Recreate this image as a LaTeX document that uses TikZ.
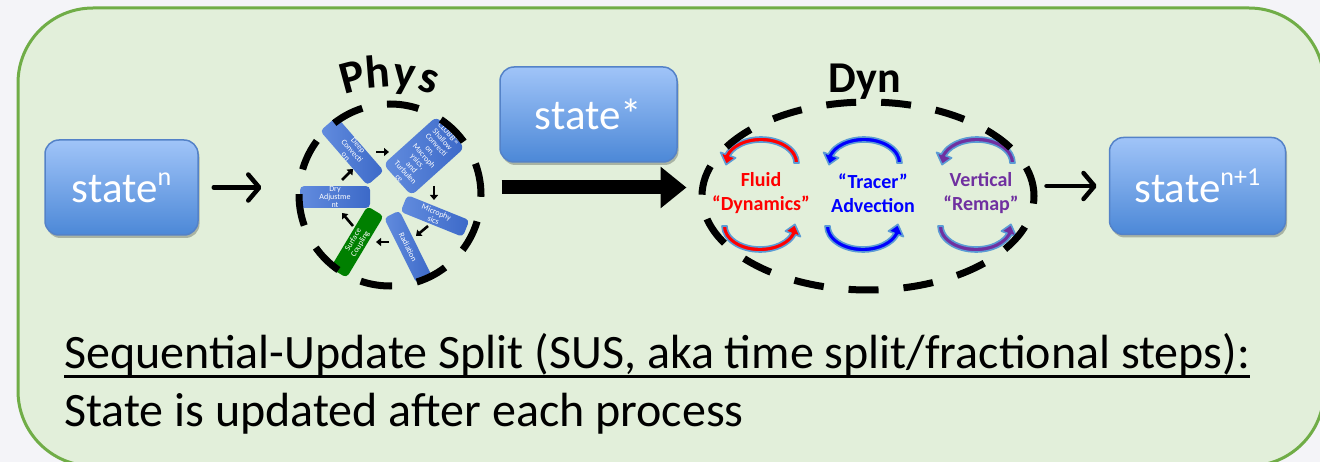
\documentclass[tikz,border=0pt]{standalone}
\usepackage{fontspec}
\setmainfont{Carlito}
\usetikzlibrary{arrows.meta,calc,shadows,shapes.geometric}

\definecolor{pagebg}{RGB}{244,244,248}
\definecolor{panelfill}{RGB}{226,239,218}
\definecolor{panelline}{RGB}{112,173,71}
\definecolor{boxtop}{RGB}{160,196,248}
\definecolor{boxbot}{RGB}{76,136,215}
\definecolor{boxline}{RGB}{84,130,200}
\definecolor{procblue}{RGB}{60,105,200}
\definecolor{procblueL}{RGB}{98,140,222}
\definecolor{procgreen}{RGB}{0,128,0}
\definecolor{arcline}{RGB}{91,155,213}
\definecolor{dynred}{RGB}{255,0,0}
\definecolor{dynblue}{RGB}{0,0,255}
\definecolor{dynpurple}{RGB}{112,48,160}

% superscript for the state labels
\newcommand\stsup[1]{\raisebox{17pt}{\fontsize{26}{26}\selectfont #1}}

% curved band arrow: #1 centre, #2 tail angle, #3 head-base angle, #4 tip angle, #5 colour
\newcommand\cArrow[5]{%
  \filldraw[fill=#5, draw=arcline, line width=1.6pt, line join=round]
    ($(#1)+(#2:38 and 26)$) arc[start angle=#2, end angle=#3, x radius=38, y radius=26]
    -- ($(#1)+(#3:43 and 31)$) -- ($(#1)+(#4:35 and 23)$) -- ($(#1)+(#3:27 and 15)$)
    -- ($(#1)+(#3:33 and 21)$) arc[start angle=#3, end angle=#2, x radius=33, y radius=21]
    -- cycle;}

\begin{document}
\begin{tikzpicture}[x=1pt, y=-1pt,
  statebox/.style={rounded corners=14pt, top color=boxtop, bottom color=boxbot,
    draw=boxline, line width=1.5pt, text=white, inner sep=0pt,
    font=\fontsize{43}{45}\selectfont,
    drop shadow={shadow xshift=1.5pt, shadow yshift=-3pt, opacity=0.25, fill=black}},
  procbox/.style={rounded corners=4pt, left color=procblueL, right color=procblue,
    text=white, inner sep=0pt, align=center,
    font=\fontsize{8}{8.3}\selectfont},
  greenbox/.style={procbox, left color=procgreen, right color=procgreen},
  ring/.style={draw=black, line width=7pt, dash pattern=on 32pt off 25pt, inner sep=0pt},
  sarrow/.style={line width=2.6pt, -{Triangle[length=5pt, width=8pt]}},
  thinarrow/.style={line width=4.5pt, line cap=round,
    -{Straight Barb[length=11pt, width=26pt, line cap=round, round]}},
  bigarrow/.style={line width=14pt, -{Triangle[length=26pt, width=40pt]}},
  dyntext/.style={font=\fontsize{20}{24}\selectfont\bfseries, align=center, inner sep=0pt},
  physletter/.style={font=\fontsize{46}{46}\selectfont\bfseries, anchor=base, inner sep=0pt},
  bodytext/.style={font=\fontsize{48}{55}\selectfont, anchor=base west, inner sep=0pt}
]
\fill[pagebg] (0,0) rectangle (1320,462);
\useasboundingbox (0,0) rectangle (1320,462);

% panel
\draw[panelline, fill=panelfill, line width=3pt, rounded corners=75pt] (18,8) rectangle (1324,466);

% state boxes
\node[statebox, minimum width=153pt, minimum height=95pt] (sn) at (121.5,187.5) {state\stsup{n}};
\node[statebox, minimum width=177pt, minimum height=95pt] (ss) at (588.5,114.5) {state*};
\node[statebox, minimum width=176pt, minimum height=97pt] (sn1) at (1197.5,186) {state\stsup{n+1}};

% physics processes
\node[procbox, rotate=-49, minimum width=72pt, minimum height=20pt] (deep) at (352,151)
  {Deep\\Convecti\\on};
\node[procbox, rotate=-48, minimum width=42pt, minimum height=69pt, rounded corners=6pt] (clubb) at (424,156)
  {CLUBB =\\Shallow\\Convecti\\on,\\Macroph\\ysics,\\and\\Turbulen\\ce};
\node[procbox, rotate=-22, minimum width=67pt, minimum height=18pt] (micro) at (435,216)
  {Microphy\\sics};
\node[procbox, rotate=-63.5, minimum width=73pt, minimum height=17pt] (rad) at (408,247)
  {Radiation};
\node[greenbox, rotate=59, minimum width=72pt, minimum height=19pt] (surf) at (357,242)
  {Surface\\Coupling};
\node[procbox, minimum width=70pt, minimum height=18pt] (dry) at (335,197)
  {Dry\\Adjustme\\nt};

% order of the physics calls
\coordinate (a1s) at (376,152); \coordinate (a1e) at (389,152);
\coordinate (a2s) at (434,186); \coordinate (a2e) at (434,200);
\coordinate (a3s) at (428,226); \coordinate (a3e) at (416,236);
\coordinate (a4s) at (389,242); \coordinate (a4e) at (376,242);
\coordinate (a5s) at (353,226); \coordinate (a5e) at (342,213);
\coordinate (a6s) at (342,180); \coordinate (a6e) at (353,169);
\draw[sarrow] (a1s) -- (a1e);
\draw[sarrow] (a2s) -- (a2e);
\draw[sarrow] (a3s) -- (a3e);
\draw[sarrow] (a4s) -- (a4e);
\draw[sarrow] (a5s) -- (a5e);
\draw[sarrow] (a6s) -- (a6e);

\node[ring, circle, minimum size=182pt] (phys) at (390,195) {};

% Phys label set on an arc
\coordinate (pc) at (389,212);
\node[physletter, rotate=15]   (pP) at ($(pc)+(-105:125)$) {P};
\node[physletter, rotate=4.5]  (ph) at ($(pc)+(-94.5:125)$) {h};
\node[physletter, rotate=-6.5] (py) at ($(pc)+(-83.5:125)$) {y};
\node[physletter, rotate=-17]  (ps) at ($(pc)+(-73:125)$) {s};

% dynamics
\node[dyntext, text=dynred] (fluid) at (761,193) {Fluid\\“Dynamics”};
\node[dyntext, text=dynblue] (tracer) at (873,193) {“Tracer”\\Advection};
\node[dyntext, text=dynpurple] (remap) at (981,193) {Vertical\\“Remap”};

\coordinate (flT) at (761,163); \coordinate (flB) at (760,226);
\coordinate (trT) at (864,163); \coordinate (trB) at (863,226);
\coordinate (reT) at (977,163); \coordinate (reB) at (976,226);
\cArrow{flT}{360}{200}{176}{dynred}
\cArrow{flB}{180}{20}{-4}{dynred}
\cArrow{trT}{360}{200}{176}{dynblue}
\cArrow{trB}{180}{20}{-4}{dynblue}
\cArrow{reT}{360}{200}{176}{dynpurple}
\cArrow{reB}{180}{20}{-4}{dynpurple}

\node[ring, ellipse, minimum width=332pt, minimum height=188pt, dash pattern=on 30pt off 25pt] (dyn) at (868,196) {};
\node[font=\fontsize{44}{44}\selectfont\bfseries, anchor=base, inner sep=0pt] (dynlbl) at (865,93) {Dyn};

% connectors
\draw[thinarrow, shorten <=15pt, shorten >=34pt] (sn.east) -- (sn.east -| phys.west);
\draw[bigarrow, shorten <=17pt, shorten >=12pt] (phys.east |- sn.east) -- (dyn.west |- sn.east);
\draw[thinarrow, shorten <=9pt, shorten >=12pt] (dyn.east |- sn1.west) -- (sn1.west);

% caption
\node[bodytext] (l1) at (64,368) {Sequential-Update Split (SUS, aka time split/fractional steps):};
\node[bodytext] (l2) at (64,426) {State is updated after each process};
\draw[line width=2.8pt] ([yshift=-8.5pt]l1.base west) -- ([yshift=-8.5pt]l1.base east);
\end{tikzpicture}
\end{document}
